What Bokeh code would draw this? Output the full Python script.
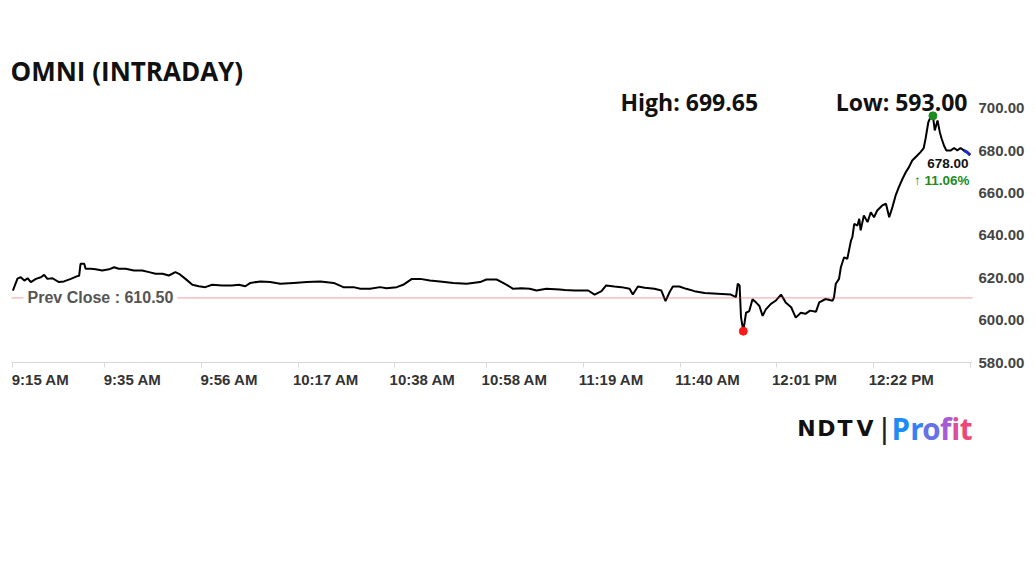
from bokeh.plotting import figure
from bokeh.layouts import column
from bokeh.models import Range1d, FixedTicker, Span, Label, NumeralTickFormatter
from bokeh.embed import file_html
from bokeh.resources import INLINE
import numpy as np

# ---- data (minutes after 9:15 AM, price) ----
minutes = [0.0, 1.0, 1.7, 2.5, 3.2, 3.9, 5.0, 6.1, 6.8, 7.5, 8.6, 10.0, 11.1, 12.6, 14.0, 14.4,
           14.7, 15.5, 15.8, 16.9, 18.0, 19.4, 20.9, 22.0, 23.0, 24.5, 26.3, 28.1, 29.6, 31.0,
           32.5, 33.9, 35.3, 36.1, 37.5, 39.0, 40.4, 41.8, 43.3, 45.5, 47.6, 49.1, 50.5, 51.6,
           53.8, 55.9, 58.1, 61.0, 63.9, 66.8, 69.7, 71.8, 74.0, 75.5, 77.6, 79.8, 81.2, 83.4,
           84.8, 86.7, 88.5, 90.6, 92.8, 95.7, 98.6, 101.5, 102.9, 105.1, 106.2, 107.3, 108.7,
           110.5, 112.3, 113.8, 115.9, 118.8, 119.9, 122.1, 125.0, 126.4, 127.9, 128.9, 130.7,
           132.2, 134.0, 134.7, 135.8, 137.3, 139.4, 140.9, 141.8, 142.7, 143.4, 144.8, 146.3,
           148.1, 150.3, 153.1, 156.0, 157.1, 157.5, 157.9, 158.2, 158.7, 159.3, 160.0, 160.7,
           161.5, 162.2, 162.9, 163.6, 164.7, 165.8, 166.9, 167.9, 169.1, 170.1, 171.2, 172.2,
           173.2, 174.5, 175.2, 176.6, 178.1, 178.4, 178.8, 179.5, 179.9, 180.6, 181.3, 182.1,
           182.4, 182.8, 183.5, 183.9, 184.2, 184.9, 185.7, 186.4, 187.1, 187.8, 188.9, 189.7,
           190.4, 191.1, 191.8, 192.5, 193.3, 194.0, 194.7, 195.4, 196.5, 197.2, 197.9, 198.3,
           198.9, 199.4, 199.9, 200.3, 200.9, 201.4, 201.8, 202.3, 202.8, 203.8, 204.5, 205.2,
           205.9, 206.6, 207.3, 208.0]
prices = [614.0, 619.6, 620.3, 618.7, 619.8, 618.0, 619.5, 620.3, 621.4, 619.5, 619.8, 618.0,
          618.3, 619.5, 620.8, 621.0, 626.6, 626.6, 624.3, 624.3, 624.0, 623.5, 624.0, 625.0,
          624.3, 624.3, 623.5, 623.5, 622.7, 621.9, 621.9, 621.1, 622.7, 621.9, 619.5, 616.7,
          616.0, 615.6, 616.7, 616.4, 616.4, 616.7, 616.0, 617.6, 618.3, 618.0, 617.2, 617.6,
          618.0, 618.3, 617.6, 615.6, 615.6, 614.8, 614.8, 615.6, 615.1, 615.6, 616.7, 619.5,
          619.5, 618.7, 618.3, 617.6, 617.2, 618.0, 619.2, 619.2, 618.0, 616.7, 614.8, 615.1,
          614.8, 614.0, 614.8, 614.5, 614.3, 614.0, 614.0, 612.1, 613.7, 616.4, 615.9, 615.6,
          614.8, 612.1, 615.9, 615.3, 614.8, 614.0, 609.0, 613.3, 615.9, 615.9, 614.8, 613.7,
          612.8, 612.5, 612.1, 610.9, 617.2, 616.4, 601.4, 594.8, 603.5, 604.3, 609.9, 608.3,
          606.7, 602.0, 605.1, 607.7, 609.3, 612.1, 608.4, 606.1, 601.2, 603.5, 603.0, 604.5,
          604.0, 608.4, 610.0, 609.2, 610.7, 617.2, 619.5, 625.0, 629.7, 629.0, 637.6, 639.2,
          645.5, 644.7, 647.9, 642.4, 649.5, 646.3, 651.0, 648.6, 651.8, 654.2, 655.0, 648.6,
          653.4, 658.9, 662.8, 666.8, 669.9, 672.3, 675.4, 677.8, 679.4, 681.3, 685.7, 693.5,
          695.9, 696.5, 689.6, 694.3, 688.8, 685.7, 682.5, 680.2, 680.2, 681.3, 680.2, 681.3,
          680.2, 679.4, 678.0]

tick_minutes = [0, 20, 41, 62, 83, 103, 124, 145, 166, 187, 208]
tick_labels = ["9:15 AM", "9:35 AM", "9:56 AM", "10:17 AM", "10:38 AM", "10:58 AM",
               "11:19 AM", "11:40 AM", "12:01 PM", "12:22 PM"]
y_ticks = [580, 600, 620, 640, 660, 680, 700]

title_text = "OMNI (INTRADAY)"
prev_close = 610.50
day_high = 699.65
day_low = 593.00
last_price = 678.00
change_pct = 11.06

W = 1036
MAIN_H, FOOT_H = 402, 170
BORDER_L, BORDER_R = 11, 64
AX_FONT = "Liberation Sans"
TF = "Open Sans"

# ---- main chart (frame spans from the top of the page down to the x axis) ----
p = figure(width=W, height=MAIN_H, output_backend="svg", toolbar_location=None,
           x_range=Range1d(-0.3, 208.5), y_range=Range1d(580, 751.0),
           y_axis_location="right",
           min_border_left=BORDER_L, min_border_right=BORDER_R,
           min_border_top=0, min_border_bottom=40)
p.outline_line_color = None
p.xgrid.visible = False
p.ygrid.visible = False

# x axis: labels sit just right of each tick mark (minor ticks draw the marks)
label_shift = 6
label_pos = [t + label_shift for t in tick_minutes[:len(tick_labels)]]
xa = p.xaxis[0]
xa.ticker = FixedTicker(ticks=label_pos, minor_ticks=tick_minutes)
xa.major_label_overrides = {pos: lab for pos, lab in zip(label_pos, tick_labels)}
xa.major_tick_out = 0
xa.major_tick_in = 0
xa.minor_tick_out = 5
xa.minor_tick_in = 0
xa.minor_tick_line_color = "#d9d9d9"
xa.axis_line_color = "#d9d9d9"
xa.major_label_standoff = 3
xa.major_label_text_font = AX_FONT
xa.major_label_text_font_style = "bold"
xa.major_label_text_font_size = "15px"
xa.major_label_text_color = "#333333"

ya = p.yaxis[0]
ya.ticker = FixedTicker(ticks=y_ticks)
ya.formatter = NumeralTickFormatter(format="0.00")
ya.axis_line_color = None
ya.major_tick_line_color = None
ya.major_tick_out = 0
ya.major_tick_in = 0
ya.minor_tick_line_color = None
ya.major_label_standoff = 6
ya.major_label_text_font = AX_FONT
ya.major_label_text_font_style = "bold"
ya.major_label_text_font_size = "15px"
ya.major_label_text_color = "#444444"

# previous close
p.add_layout(Span(location=prev_close, dimension="width", line_color="#e83c3c",
                  line_dash="1 1", line_width=1))
p.add_layout(Label(x=12, y=prev_close, x_units="screen", y_units="data",
                   text=f"Prev Close : {prev_close:.2f}", text_font=AX_FONT,
                   text_font_style="bold", text_font_size="16px", text_color="#555555",
                   text_baseline="middle", background_fill_color="white", padding=4))

# price line
p.line(minutes, prices, line_color="black", line_width=2)
p.line(minutes[-3:], prices[-3:], line_color="#1f2ab8", line_width=3)

i_max = int(np.argmax(prices))
i_min = int(np.argmin(prices))
p.scatter([minutes[i_max]], [prices[i_max]], size=8, color="#1e8c1e")
p.scatter([minutes[i_min]], [prices[i_min]], size=8, color="#ff1a1a")

# texts inside the chart frame (screen units from frame left / frame bottom)
p.add_layout(Label(x=-1, y=292, x_units="screen", y_units="screen", text=title_text,
                   text_font=TF, text_font_style="bold", text_font_size="26px",
                   text_color="#111111", text_baseline="middle"))
p.add_layout(Label(x=609, y=261, x_units="screen", y_units="screen",
                   text=f"High: {day_high:.2f}", text_font=TF, text_font_style="bold",
                   text_font_size="23px", text_color="#111111", text_baseline="middle"))
p.add_layout(Label(x=956, y=261, x_units="screen", y_units="screen",
                   text=f"Low: {day_low:.2f}", text_font=TF, text_font_style="bold",
                   text_font_size="23px", text_color="#111111", text_baseline="middle",
                   text_align="right"))
p.add_layout(Label(x=957, y=199, x_units="screen", y_units="screen",
                   text=f"{last_price:.2f}", text_font=AX_FONT, text_font_style="bold",
                   text_font_size="13.5px", text_color="#111111", text_baseline="middle",
                   text_align="right"))
p.add_layout(Label(x=958, y=182, x_units="screen", y_units="screen",
                   text=f"\u2191 {change_pct:.2f}%", text_font=AX_FONT, text_font_style="bold",
                   text_font_size="13.5px", text_color="#1e8c1e", text_baseline="middle",
                   text_align="right"))

# ---- footer: NDTV | Profit logo (data units = page pixels) ----
foot = figure(width=W, height=FOOT_H, output_backend="svg", toolbar_location=None,
              x_range=Range1d(BORDER_L, W - BORDER_R),
              y_range=Range1d(MAIN_H + FOOT_H, MAIN_H),
              x_axis_type=None, y_axis_type=None,
              min_border_left=BORDER_L, min_border_right=BORDER_R,
              min_border_top=0, min_border_bottom=0)
foot.outline_line_color = None
foot.xgrid.visible = False
foot.ygrid.visible = False

logo_y = 428
for ch, cx in zip("NDTV", [806, 826, 844.5, 864.5]):
    foot.add_layout(Label(x=cx, y=logo_y, text=ch, text_font="DejaVu Sans",
                          text_font_style="bold", text_font_size="22px", text_color="#111111",
                          text_baseline="middle", text_align="center"))
foot.add_layout(Label(x=884, y=logo_y, text="|", text_font="Liberation Sans",
                      text_font_size="30px", text_color="#222222",
                      text_baseline="middle", text_align="center"))
profit_colors = ["#1f8cf5", "#3384f2", "#6672e6", "#a65dd3", "#dc4f9c", "#ee4776"]
profit_x = [891, 909.7, 921.7, 939.5, 950.7, 959.3]
for ch, cx, col in zip("Profit", profit_x, profit_colors):
    foot.add_layout(Label(x=cx, y=logo_y, text=ch, text_font=TF, text_font_style="bold",
                          text_font_size="29.5px", text_color=col, text_baseline="middle"))

layout = column(p, foot)
open("out.html", "w").write(file_html(layout, INLINE))
